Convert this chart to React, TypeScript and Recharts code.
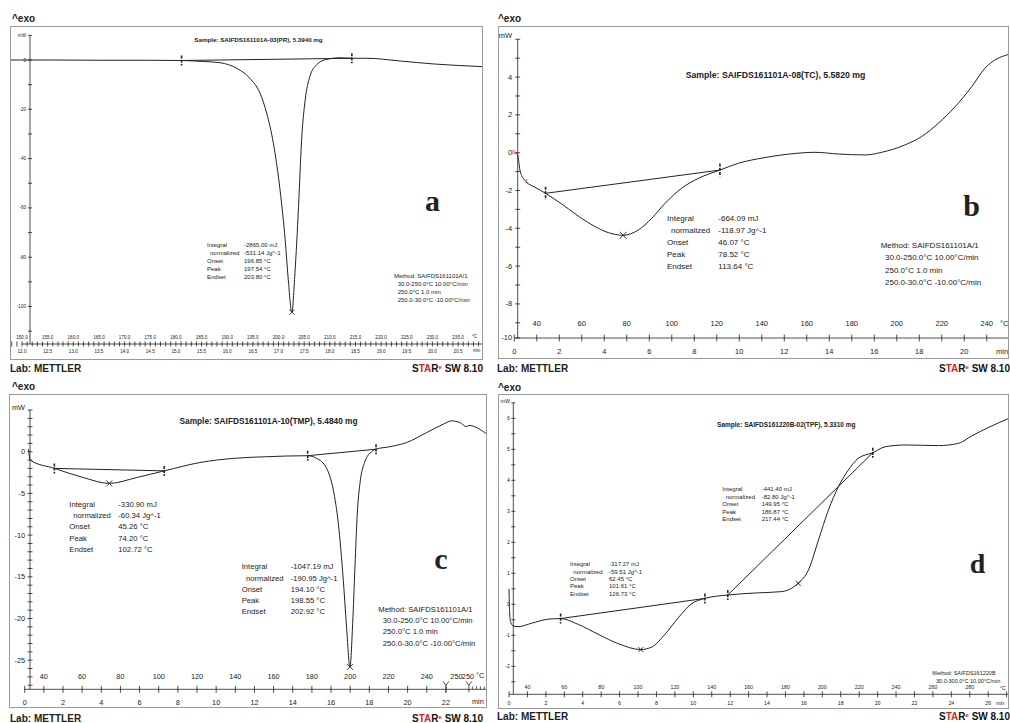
import React from 'react'
import { ComposedChart, Line, XAxis, YAxis, ReferenceLine } from 'recharts'

const FONT = '"Liberation Sans", Arial, sans-serif'
const SERIF = '"Liberation Serif", "DejaVu Serif", serif'
const INK = '#222'
const FRAME = '#9a9a9a'
const RED = '#d8261f'

// ---------- a: SAIFDS161101A-03(PR) ----------
const aTime = [11.77, 12.6, 13.5, 14.4, 15.11, 15.53, 15.86, 16.19, 16.44, 16.64, 16.77, 16.9, 17.03, 17.13, 17.19, 17.26, 17.32, 17.39, 17.45, 17.52, 17.61, 17.74, 17.94, 18.2, 18.43, 18.72, 19.37, 20.02, 20.99]
const aFlow = [0, 0, -0.1, -0.1, -0.2, -0.6, -1.1, -3.4, -7.4, -13.5, -21.6, -33.8, -52.7, -73, -89, -102.3, -86.5, -59.5, -32.5, -16.2, -6.8, -2, 0.3, 0.9, 0.7, 0.7, -0.4, -1.6, -2.7]
const aBaseTime = [15.11, 18.43]
const aBaseFlow = [-0.2, 0.7]
const aPeakTime = [17.26]
const aPeakFlow = [-102.3]
const aLabelTicks = [12, 12.5, 13, 13.5, 14, 14.5, 15, 15.5, 16, 16.5, 17, 17.5, 18, 18.5, 19, 19.5, 20, 20.5]
const aMinLabels = ['12.0', '12.5', '13.0', '13.5', '14.0', '14.5', '15.0', '15.5', '16.0', '16.5', '17.0', '17.5', '18.0', '18.5', '19.0', '19.5', '20.0', '20.5']
const aTempLabels = ['150.0', '155.0', '160.0', '165.0', '170.0', '175.0', '180.0', '185.0', '190.0', '195.0', '200.0', '205.0', '210.0', '215.0', '220.0', '225.0', '230.0', '235.0']
const aYLabelAt = [0, -20, -40, -60, -80, -100]
const aYLabels = ['0', '-20', '-40', '-60', '-80', '-100']

// ---------- b: SAIFDS161101A-08(TC) ----------
const bTime = [0.03, 0.15, 0.25, 0.4, 0.55, 0.92, 1.39, 2.1, 2.84, 3.59, 4.18, 4.84, 5.51, 6.11, 6.7, 7.44, 8.18, 9.14, 9.96, 11.14, 12.92, 13.36, 14.4, 15.59, 16.33, 17.36, 18.1, 18.84, 19.59, 20.33, 20.92, 21.36, 21.98]
const bFlow = [0, -0.12, -0.92, -1.36, -1.57, -1.83, -2.15, -2.71, -3.35, -3.91, -4.23, -4.37, -4.09, -3.47, -2.68, -1.88, -1.36, -0.92, -0.56, -0.26, 0, 0.02, -0.07, -0.12, 0.02, 0.41, 0.85, 1.55, 2.43, 3.49, 4.47, 4.9, 5.2]
const bBaseTime = [1.39, 9.14]
const bBaseFlow = [-2.15, -0.92]
const bPeakTime = [4.84]
const bPeakFlow = [-4.37]
const bMinTicks = [0, 2, 4, 6, 8, 10, 12, 14, 16, 18, 20]
const bMinLabels = ['0', '2', '4', '6', '8', '10', '12', '14', '16', '18', '20']
const bTempTicks = [1, 3, 5, 7, 9, 11, 13, 15, 17, 19, 21]
const bTempLabels = ['40', '60', '80', '100', '120', '140', '160', '180', '200', '220', '240']
const bYLabelAt = [4, 2, 0, -2, -4, -6, -8, -9.8]
const bYLabels = ['4', '2', '0', '-2', '-4', '-6', '-8', '-10']

// ---------- c: SAIFDS161101A-10(TMP) ----------
const cTime = [0.2, 0.28, 1.55, 3.06, 4.42, 5.85, 7.29, 9.15, 10.9, 12.64, 14.78, 15.25, 15.77, 16.12, 16.38, 16.64, 16.81, 16.99, 17.13, 17.25, 17.37, 17.51, 17.77, 18.12, 18.35, 19.08, 19.95, 21.0, 21.86, 22.3, 22.73, 23.08, 23.2, 24.14]
const cFlow = [0.3, -1.0, -2.0, -3.1, -3.8, -3.1, -2.3, -1.3, -0.8, -0.6, -0.48, -0.8, -2, -4.6, -8.6, -15.4, -21, -25.8, -20.6, -13.8, -7.4, -3.8, -1.2, 0, 0.3, 0.6, 1.1, 2.3, 3.3, 3.7, 3.5, 3.0, 3.15, 2.1]
const cBaseTime1 = [1.55, 7.29]
const cBaseFlow1 = [-2.0, -2.3]
const cBaseTime2 = [14.78, 18.35]
const cBaseFlow2 = [-0.48, 0.3]
const cPeakTime = [4.42, 16.99]
const cPeakFlow = [-3.8, -25.8]
const cMinTicks = [0, 2, 4, 6, 8, 10, 12, 14, 16, 18, 20, 22]
const cMinLabels = ['0', '2', '4', '6', '8', '10', '12', '14', '16', '18', '20', '22']
const cTempTicks = [1, 3, 5, 7, 9, 11, 13, 15, 17, 19, 21, 22.55, 23.15]
const cTempLabels = ['40', '60', '80', '100', '120', '140', '160', '180', '200', '220', '240', '250', '250']
const cYLabelAt = [0, -5, -10, -15, -20, -25]
const cYLabels = ['0', '-5', '-10', '-15', '-20', '-25']

// ---------- d: SAIFDS161220B-02(TPF) ----------
const dTime = [0, 0.03, 0.08, 0.23, 0.5, 1.23, 2.13, 2.8, 3.76, 4.85, 5.93, 7.15, 7.74, 8.46, 9.19, 9.91, 10.63, 11.87, 13.53, 14.8, 15.34, 15.7, 16.25, 16.79, 17.33, 17.87, 18.41, 18.95, 19.74, 20.4, 21.49, 23.3, 24.38, 25.1, 26.0, 27.13]
const dFlow = [0.5, -0.2, -0.55, -0.7, -0.72, -0.61, -0.48, -0.46, -0.65, -0.97, -1.27, -1.46, -1.38, -0.97, -0.43, 0.02, 0.19, 0.3, 0.37, 0.41, 0.52, 0.68, 1.11, 2.07, 3.04, 3.79, 4.33, 4.71, 4.89, 5.08, 5.14, 5.12, 5.19, 5.43, 5.7, 6.0]
const dBaseTime1 = [2.8, 10.63]
const dBaseFlow1 = [-0.46, 0.19]
const dBaseTime2 = [11.87, 19.74]
const dBaseFlow2 = [0.3, 4.89]
const dPeakTime = [7.15, 15.7]
const dPeakFlow = [-1.46, 0.68]
const dMinTicks = [0, 2, 4, 6, 8, 10, 12, 14, 16, 18, 20, 22, 24, 26]
const dMinLabels = ['0', '2', '4', '6', '8', '10', '12', '14', '16', '18', '20', '22', '24', '26']
const dTempTicks = [1, 3, 5, 7, 9, 11, 13, 15, 17, 19, 21, 23, 25]
const dTempLabels = ['40', '60', '80', '100', '120', '140', '160', '180', '200', '220', '240', '260', '280']
const dYLabelAt = [6, 5, 4, 3, 2, 1, 0, -1, -2]
const dYLabels = ['6', '5', '4', '3', '2', '1', '0', '-1', '-2']

const methodA = ['Method: SAIFDS161101A/1', '30.0-250.0°C 10.00°C/min', '250.0°C 1.0 min', '250.0-30.0°C -10.00°C/min']
const methodD = ['Method: SAIFDS161220B', '30.0-300.0°C 10.00°C/min']

const range = (a: number, b: number, s: number) => {
  const out: number[] = []
  for (let v = a; v <= b + 1e-9; v += s) out.push(Math.round(v * 1000) / 1000)
  return out
}
const toPts = (ts: number[], vs: number[]) => ts.map((t, i) => ({ t, v: vs[i] }))
const find = (arr: number[] | undefined, v: number) => (arr ? arr.findIndex(x => Math.abs(x - v) < 1e-6) : -1)

const panels = [
  {
    id: 'a', left: 10, top: 26, right: 483, bottom: 360, plotTop: 30, axisY: 344,
    xDomain: [11.766, 20.986], yDomain: [-115.2, 12.17], yOff: 20, xAxisFrom: 12,
    yTicks: range(-110, 10, 10), mwTick: 10, mwDy: 0, yLabelAt: aYLabelAt, yLabels: aYLabels,
    yGap: 4, yTickHalf: 2, yFont: 4.6,
    xTicks: range(11.8, 20.9, 0.1), tickUp: 2.5, tickDown: 2.5, axisFont: 4.6, tempDy: 7, minDy: 7,
    minTicks: aLabelTicks, minLabels: aMinLabels, tempTicks: aLabelTicks, tempLabels: aTempLabels,
    curve: toPts(aTime, aFlow), bases: [toPts(aBaseTime, aBaseFlow)], peaks: toPts(aPeakTime, aPeakFlow),
    markH: 5, crossR: 2.5,
  },
  {
    id: 'b', left: 498, top: 26, right: 1009, bottom: 359, plotTop: 30, axisY: 338,
    xDomain: [-0.724, 21.987], yDomain: [-9.804, 6.49], yOff: 19.7, xAxisFrom: 0,
    yTicks: [...range(-9, 6, 1), -9.8], mwTick: 6, mwDy: 4, yLabelAt: bYLabelAt, yLabels: bYLabels,
    yGap: 5.5, yTickHalf: 2.5, yFont: 7.5,
    xTicks: range(0, 21, 1), tickUp: 3.5, tickDown: 3.5, axisFont: 7.5, tempDy: 15, minDy: 13,
    minTicks: bMinTicks, minLabels: bMinLabels, tempTicks: bTempTicks, tempLabels: bTempLabels,
    curve: toPts(bTime, bFlow), bases: [toPts(bBaseTime, bBaseFlow)], peaks: toPts(bPeakTime, bPeakFlow),
    markH: 6.5, crossR: 3.5,
  },
  {
    id: 'c', left: 9, top: 394, right: 487, bottom: 708, plotTop: 398, axisY: 689.3,
    xDomain: [-0.82, 24.146], yDomain: [-28.49, 6.44], yOff: 21, xAxisFrom: 0,
    yTicks: range(-28, 5, 1), mwTick: 5, mwDy: 3, yLabelAt: cYLabelAt, yLabels: cYLabels,
    yGap: 5, yTickHalf: 2.5, yFont: 7.3,
    xTicks: range(0, 22, 1), smallTicks: [23.4, 23.6, 23.8, 24.0], yMarks: [22, 23.2],
    tickUp: 3.5, tickDown: 3.5, axisFont: 7.3, tempDy: 13.3, minDy: 12.7,
    minTicks: cMinTicks, minLabels: cMinLabels, tempTicks: cTempTicks, tempLabels: cTempLabels,
    curve: toPts(cTime, cFlow), bases: [toPts(cBaseTime1, cBaseFlow1), toPts(cBaseTime2, cBaseFlow2)],
    peaks: toPts(cPeakTime, cPeakFlow), markH: 5, crossR: 3,
  },
  {
    id: 'd', left: 498, top: 394, right: 1009, bottom: 709, plotTop: 398, axisY: 694.3,
    xDomain: [-0.597, 27.129], yDomain: [-2.903, 6.655], yOff: 15.3, xAxisFrom: 0,
    yTicks: range(-2.5, 6.5, 0.5), mwTick: 6.5, mwDy: 2, yLabelAt: dYLabelAt, yLabels: dYLabels,
    yGap: 3.5, yTickHalf: 2, yFont: 5.2,
    xTicks: range(0, 27, 1), tickUp: 3, tickDown: 3, axisFont: 5.3, tempDy: 7.6, minDy: 9,
    minTicks: dMinTicks, minLabels: dMinLabels, tempTicks: dTempTicks, tempLabels: dTempLabels,
    curve: toPts(dTime, dFlow), bases: [toPts(dBaseTime1, dBaseFlow1), toPts(dBaseTime2, dBaseFlow2)],
    peaks: toPts(dPeakTime, dPeakFlow), markH: 5, crossR: 2.5,
  },
]

const xTick = (p: any) => (props: any) => {
  const { x, y, payload, index } = props
  const t = payload.value
  const out: any[] = []
  if (find(p.xTicks, t) >= 0)
    out.push(<line key="l" x1={x} x2={x} y1={y - p.tickUp} y2={y + p.tickDown} stroke={INK} strokeWidth={0.8} />)
  if (find(p.smallTicks, t) >= 0)
    out.push(<line key="s" x1={x} x2={x} y1={y - 3} y2={y} stroke={INK} strokeWidth={0.7} />)
  if (find(p.yMarks, t) >= 0)
    out.push(<path key="y" d={`M${x - 3},${y - 8} L${x},${y - 4} L${x + 3},${y - 8} M${x},${y - 4} L${x},${y + 3}`} fill="none" stroke={INK} strokeWidth={0.8} />)
  const mi = find(p.minTicks, t)
  if (mi >= 0)
    out.push(<text key="m" x={x} y={y + p.minDy} textAnchor="middle" dominantBaseline="central" fontSize={p.axisFont} fontFamily={FONT} fill={INK}>{p.minLabels[mi]}</text>)
  const ti = find(p.tempTicks, t)
  if (ti >= 0)
    out.push(<text key="t" x={x} y={y - p.tempDy} textAnchor="middle" dominantBaseline="central" fontSize={p.axisFont} fontFamily={FONT} fill={INK}>{p.tempLabels[ti]}</text>)
  return <g key={index}>{out}</g>
}

// the plot area starts at the frame's left edge, so the y axis sits yOff px inside it
const yTick = (p: any) => (props: any) => {
  const { y, payload, index } = props
  const v = payload.value
  const ax = p.yOff
  const li = find(p.yLabelAt, v)
  const txt = { textAnchor: 'end', dominantBaseline: 'central', fontSize: p.yFont, fontFamily: FONT, fill: INK } as any
  return (
    <g key={index}>
      <line x1={ax - p.yTickHalf} x2={ax + p.yTickHalf} y1={y} y2={y} stroke={INK} strokeWidth={0.8} />
      {Math.abs(v - p.mwTick) < 1e-6 && <text x={ax - p.yGap} y={y - p.mwDy} {...txt}>mW</text>}
      {li >= 0 && <text x={ax - p.yGap} y={y} {...txt}>{p.yLabels[li]}</text>}
    </g>
  )
}

const limitDot = (h: number) => (props: any) => {
  const { cx, cy, index } = props
  if (cx == null || cy == null) return <g key={index} />
  return <line key={index} x1={cx} x2={cx} y1={cy - h} y2={cy + h} stroke={INK} strokeWidth={1.6} strokeDasharray="3 1.2" />
}

const crossDot = (r: number) => (props: any) => {
  const { cx, cy, index } = props
  if (cx == null || cy == null) return <g key={index} />
  return (
    <path key={index} d={`M${cx - r},${cy - r} L${cx + r},${cy + r} M${cx - r},${cy + r} L${cx + r},${cy - r}`} stroke={INK} strokeWidth={0.9} fill="none" />
  )
}

function DscPanel({ p }: { p: any }) {
  const W = p.right - p.left
  const H = p.bottom - p.top
  const yAxisT = p.xDomain[0] + (p.yOff * (p.xDomain[1] - p.xDomain[0])) / W
  const ticks = [...p.xTicks, ...p.minTicks, ...p.tempTicks, ...(p.smallTicks || []), ...(p.yMarks || [])]
  const allTicks = ticks.filter((t, i) => find(ticks.slice(0, i), t) < 0).sort((a, b) => a - b)
  return (
    <div style={{ position: 'absolute', left: p.left, top: p.top, width: W, height: H }}>
      <ComposedChart width={W} height={H} margin={{ top: p.plotTop - p.top, right: 0, bottom: 0, left: 0 }}>
        <XAxis
          type="number" dataKey="t" domain={p.xDomain} allowDataOverflow
          ticks={allTicks} interval={0} height={p.bottom - p.axisY}
          tickLine={false} axisLine={false} tickSize={0} tickMargin={0}
          tick={xTick(p)}
        />
        <YAxis
          type="number" dataKey="v" domain={p.yDomain} allowDataOverflow
          ticks={p.yTicks} interval={0} width={1} mirror
          tickLine={false} axisLine={false} tickSize={0} tickMargin={0}
          tick={yTick(p)}
        />
        <ReferenceLine segment={[{ x: yAxisT, y: p.mwTick }, { x: yAxisT, y: p.yDomain[0] }]} stroke={INK} strokeWidth={0.8} ifOverflow="visible" />
        <ReferenceLine segment={[{ x: p.xAxisFrom, y: p.yDomain[0] }, { x: p.xDomain[1], y: p.yDomain[0] }]} stroke={INK} strokeWidth={0.8} ifOverflow="visible" />
        <Line data={p.curve} dataKey="v" type="monotone" stroke={INK} strokeWidth={1} dot={false} isAnimationActive={false} />
        {p.bases.map((b: any, i: number) => (
          <Line key={'b' + i} data={b} dataKey="v" type="linear" stroke={INK} strokeWidth={1} dot={limitDot(p.markH)} activeDot={false} isAnimationActive={false} />
        ))}
        <Line data={p.peaks} dataKey="v" stroke="none" dot={crossDot(p.crossR)} activeDot={false} isAnimationActive={false} />
      </ComposedChart>
      <div style={{ position: 'absolute', inset: 0, border: `1px solid ${FRAME}`, pointerEvents: 'none' }} />
    </div>
  )
}

function Txt({ x, y, size, bold, color = INK, anchor = 'start', family = FONT, children }: any) {
  const style: any = {
    position: 'absolute', top: y - size * 0.6, fontSize: size, lineHeight: `${size * 1.2}px`,
    fontWeight: bold ? 700 : 400, color, fontFamily: family, whiteSpace: 'pre',
  }
  if (anchor === 'end') style.right = 1010 - x
  else if (anchor === 'middle') { style.left = x; style.transform = 'translateX(-50%)' }
  else style.left = x
  return <div style={style}>{children}</div>
}

function Info({ x, y, gap, size, valueX, indent, rows }: any) {
  return rows.map((r: string[], i: number) => (
    <React.Fragment key={i}>
      <Txt x={x + (i === 1 ? indent : 0)} y={y + i * gap} size={size}>{r[0]}</Txt>
      <Txt x={valueX} y={y + i * gap} size={size}>{r[1]}</Txt>
    </React.Fragment>
  ))
}

function Lines({ x, indentX, y, gap, size, lines }: any) {
  return lines.map((l: string, i: number) => (
    <Txt key={i} x={i === 0 ? x : indentX} y={y + i * gap} size={size}>{l}</Txt>
  ))
}

function Star({ right, y }: any) {
  return (
    <div style={{ position: 'absolute', right: 1010 - right, top: y - 6, fontFamily: FONT, fontWeight: 700, fontSize: 10, lineHeight: '12px', color: '#111', whiteSpace: 'nowrap' }}>
      S<span style={{ color: RED }}>TA</span>R<span style={{ color: RED, fontSize: 6, position: 'relative', top: -3 }}>e</span> SW 8.10
    </div>
  )
}

const infoA = [['Integral', '-2865.00 mJ'], ['normalized', '-531.14 Jg^-1'], ['Onset', '196.85 °C'], ['Peak', '197.54 °C'], ['Endset', '203.80 °C']]
const infoB = [['Integral', '-664.09 mJ'], ['normalized', '-118.97 Jg^-1'], ['Onset', '46.07 °C'], ['Peak', '78.52 °C'], ['Endset', '113.64 °C']]
const infoC1 = [['Integral', '-330.90 mJ'], ['normalized', '-60.34 Jg^-1'], ['Onset', '45.26 °C'], ['Peak', '74.20 °C'], ['Endset', '102.72 °C']]
const infoC2 = [['Integral', '-1047.19 mJ'], ['normalized', '-190.95 Jg^-1'], ['Onset', '194.10 °C'], ['Peak', '198.55 °C'], ['Endset', '202.92 °C']]
const infoD1 = [['Integral', '-317.27 mJ'], ['normalized', '-59.51 Jg^-1'], ['Onset', '62.45 °C'], ['Peak', '101.61 °C'], ['Endset', '126.73 °C']]
const infoD2 = [['Integral', '-441.40 mJ'], ['normalized', '-82.80 Jg^-1'], ['Onset', '149.95 °C'], ['Peak', '186.87 °C'], ['Endset', '217.44 °C']]

export default function App() {
  return (
    <div style={{ position: 'absolute', left: 0, top: 0, width: 1010, height: 723, background: '#fff', overflow: 'hidden' }}>
      {panels.map(p => <DscPanel key={p.id} p={p} />)}

      {/* a */}
      <Txt x={12} y={18.5} size={10} bold>^exo</Txt>
      <Txt x={258.5} y={40} size={6.2} bold anchor="middle">Sample: SAIFDS161101A-03(PR), 5.3940 mg</Txt>
      <Txt x={432.5} y={201} size={30} bold anchor="middle" family={SERIF}>a</Txt>
      <Info x={207} y={246} gap={7.9} size={6} valueX={244} indent={3} rows={infoA} />
      <Lines x={394} indentX={397.7} y={277} gap={8} size={6} lines={methodA} />
      <Txt x={472} y={337} size={4.6}>°C</Txt>
      <Txt x={473} y={351} size={4.6}>min</Txt>
      <Txt x={10} y={369} size={10} bold>Lab: METTLER</Txt>
      <Star right={483} y={369} />

      {/* b */}
      <Txt x={498} y={18.5} size={10} bold>^exo</Txt>
      <Txt x={775.5} y={75} size={8.7} bold anchor="middle">Sample: SAIFDS161101A-08(TC), 5.5820 mg</Txt>
      <Txt x={971.7} y={206} size={30} bold anchor="middle" family={SERIF}>b</Txt>
      <Info x={667} y={218.7} gap={12} size={8} valueX={718.3} indent={4} rows={infoB} />
      <Lines x={880.7} indentX={885} y={246} gap={12.2} size={8} lines={methodA} />
      <Txt x={512} y={153} size={6} color={RED}>0</Txt>
      <Txt x={525} y={182} size={6} color={RED}>1</Txt>
      <Txt x={1000} y={323} size={7.5}>°C</Txt>
      <Txt x={996} y={351} size={7.5}>min</Txt>
      <Txt x={497} y={368.5} size={10} bold>Lab: METTLER</Txt>
      <Star right={1010} y={368.5} />

      {/* c */}
      <Txt x={12} y={387} size={10} bold>^exo</Txt>
      <Txt x={268.5} y={421.7} size={8.3} bold anchor="middle">Sample: SAIFDS161101A-10(TMP), 5.4840 mg</Txt>
      <Txt x={441} y={559} size={30} bold anchor="middle" family={SERIF}>c</Txt>
      <Info x={69.3} y={504.3} gap={11.35} size={7.7} valueX={118.3} indent={4} rows={infoC1} />
      <Info x={241.7} y={567} gap={11.2} size={7.7} valueX={290.7} indent={4.3} rows={infoC2} />
      <Lines x={378.3} indentX={382.7} y={609.3} gap={11.33} size={7.7} lines={methodA} />
      <Txt x={476} y={676} size={7.3}>°C</Txt>
      <Txt x={472} y={702} size={7.3}>min</Txt>
      <Txt x={10} y={718.5} size={10} bold>Lab: METTLER</Txt>
      <Star right={483} y={718.5} />

      {/* d */}
      <Txt x={498} y={388} size={10} bold>^exo</Txt>
      <Txt x={786.3} y={425} size={6.5} bold anchor="middle">Sample: SAIFDS161220B-02(TPF), 5.3310 mg</Txt>
      <Txt x={977.5} y={564} size={28} bold anchor="middle" family={SERIF}>d</Txt>
      <Info x={570} y={565} gap={7.3} size={6} valueX={609} indent={3.3} rows={infoD1} />
      <Info x={722.3} y={490} gap={7.4} size={6} valueX={761.7} indent={3.4} rows={infoD2} />
      <Lines x={932.3} indentX={936} y={673.7} gap={7.3} size={5.5} lines={methodD} />
      <Txt x={1000} y={688} size={5.3}>°C</Txt>
      <Txt x={996} y={703} size={5.3}>min</Txt>
      <Txt x={497} y={716.5} size={10} bold>Lab: METTLER</Txt>
      <Star right={1010} y={716.5} />
    </div>
  )
}
